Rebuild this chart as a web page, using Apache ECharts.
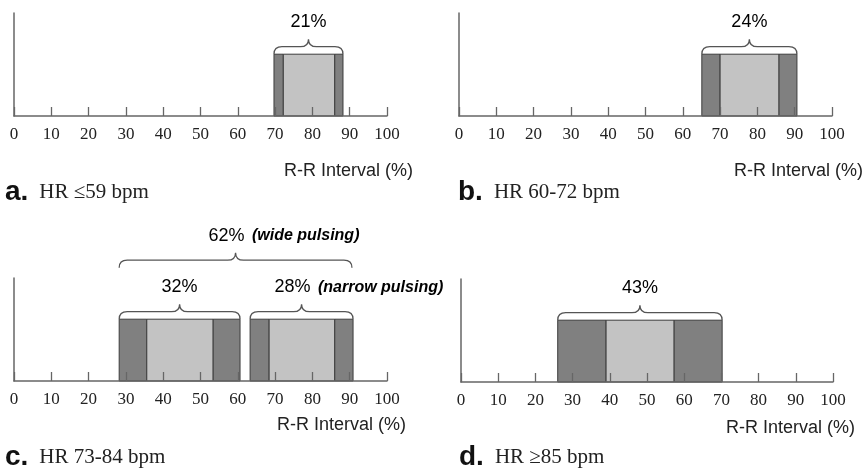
<!DOCTYPE html>
<html>
<head>
<meta charset="utf-8">
<script src="https://cdn.jsdelivr.net/npm/echarts@6/dist/echarts.min.js"></script>
<style>
  html, body { margin: 0; padding: 0; background: #fff; }
  #chart { width: 863px; height: 468px; }
</style>
</head>
<body>
<div id="chart"></div>
<script>
/* R-R interval windows per heart-rate band: dark edge / light core / dark edge. */

const X_MIN = 0;
const X_MAX = 100;
const X_STEP = 10;

const PANEL_KEYS = ["a.", "b.", "c.", "d."];
const CAPTIONS = ["HR \u226459 bpm", "HR 60-72 bpm", "HR 73-84 bpm", "HR \u226585 bpm"];
const AXIS_NAME = "R-R Interval (%)";

// each bar: [start, light start, light end, end] on the R-R axis
const BARS_A = [[69.7, 72.2, 86.0, 88.2]];
const BARS_B = [[65.1, 70.0, 85.8, 90.6]];
const BARS_C = [[28.2, 35.6, 53.4, 60.6], [63.3, 68.4, 86.0, 90.9]];
const BARS_D = [[26.0, 39.0, 57.3, 70.2]];
const BAR_LEVEL = 6;

// each brace: [from, to, level, percent, note]
const BRACES_A = [[69.7, 88.2, 6, "21%", ""]];
const BRACES_B = [[65.1, 90.6, 6, "24%", ""]];
const BRACES_C = [
  [28.2, 60.6, 6, "32%", ""],
  [63.3, 90.9, 6, "28%", "narrow pulsing"],
  [28.2, 90.6, 11, "62%", "wide pulsing"],
];
const BRACES_D = [[26.0, 70.2, 6, "43%", ""]];

const BARS = [BARS_A, BARS_B, BARS_C, BARS_D];
const BRACES = [BRACES_A, BRACES_B, BRACES_C, BRACES_D];

const GRIDS = [
  { left: 14, top: 13, width: 373, height: 103 },
  { left: 459, top: 13, width: 373, height: 103 },
  { left: 14, top: 278, width: 373, height: 103 },
  { left: 461, top: 279, width: 372, height: 103 },
];
const CAPTION_POS = [[5, 178], [458, 178], [5, 443], [459, 443]];
const NAME_POS = [[284, 162], [734, 162], [277, 416], [726, 419]];

const AXIS_COLOR = "#666";
const DARK = "#808080";
const LIGHT = "#c3c3c3";
const EDGE = "#3c3c3c";
const SANS = "Liberation Sans, Arial, sans-serif";
const SERIF = "Liberation Serif, Times New Roman, serif";

function segmentsOf(bars) {
  const out = [];
  for (const b of bars) {
    out.push([b[0], b[1], 1], [b[1], b[2], 0], [b[2], b[3], 1]);
  }
  return out;
}

function barSeries(i) {
  const segs = segmentsOf(BARS[i]);
  return {
    type: "custom",
    xAxisIndex: i,
    yAxisIndex: i,
    z: 2,
    silent: true,
    data: segs,
    renderItem: (params, api) => {
      const p0 = api.coord([api.value(0), 0]);
      const p1 = api.coord([api.value(1), BAR_LEVEL]);
      const dark = segs[params.dataIndex][2] === 1;
      return {
        type: "rect",
        shape: { x: p0[0], y: p1[1], width: p1[0] - p0[0], height: p0[1] - p1[1] },
        style: { fill: dark ? DARK : LIGHT, stroke: EDGE, lineWidth: 1 },
      };
    },
  };
}

function braceSeries(i) {
  const list = BRACES[i];
  return {
    type: "custom",
    xAxisIndex: i,
    yAxisIndex: i,
    z: 3,
    silent: true,
    clip: false,
    data: list.map((b) => [b[0], b[1], b[2]]),
    renderItem: (params, api) => {
      const b = list[params.dataIndex];
      const a = api.coord([api.value(0), api.value(2)]);
      const c = api.coord([api.value(1), api.value(2)]);
      const x1 = a[0], x2 = c[0], yb = a[1];
      const h = 15, r = 8;
      const ym = yb - h / 2;
      const xm = (x1 + x2) / 2;
      const d =
        `M${x1},${yb} Q${x1},${ym} ${x1 + r},${ym} L${xm - r},${ym} ` +
        `Q${xm},${ym} ${xm},${yb - h} Q${xm},${ym} ${xm + r},${ym} ` +
        `L${x2 - r},${ym} Q${x2},${ym} ${x2},${yb}`;
      const hasNote = !!b[4];
      return {
        type: "group",
        children: [
          {
            type: "path",
            shape: { pathData: d },
            style: { fill: "none", stroke: "#555", lineWidth: 1.3 },
          },
          {
            type: "text",
            style: {
              x: hasNote ? xm - 27 : xm,
              y: yb - h - 8,
              text: hasNote ? `{p|${b[3]}} {n|(${b[4]})}` : `{p|${b[3]}}`,
              align: hasNote ? "left" : "center",
              verticalAlign: "bottom",
              rich: {
                p: { fontFamily: SANS, fontSize: 18, color: "#222" },
                n: { fontFamily: SANS, fontSize: 16, fontWeight: "bold", fontStyle: "italic", color: "#222", padding: [0, 0, 0, 4] },
              },
            },
          },
        ],
      };
    },
  };
}

const chart = echarts.init(document.getElementById("chart"), null, { renderer: "canvas" });

const titles = [];
PANEL_KEYS.forEach((k, i) => {
  titles.push({
    text: `{l|${k}}{h|${CAPTIONS[i]}}`,
    left: CAPTION_POS[i][0],
    top: CAPTION_POS[i][1],
    padding: 0,
    textStyle: {
      fontWeight: "normal",
      rich: {
        l: { fontFamily: SANS, fontWeight: "bold", fontSize: 28, color: "#111" },
        h: { fontFamily: SERIF, fontWeight: "normal", fontSize: 21, color: "#222", padding: [0, 0, 0, 11] },
      },
    },
  });
  titles.push({
    text: AXIS_NAME,
    left: NAME_POS[i][0],
    top: NAME_POS[i][1],
    padding: 0,
    textStyle: { fontFamily: SANS, fontSize: 18, fontWeight: "normal", color: "#222" },
  });
});

chart.setOption({
  animation: false,
  backgroundColor: "#fff",
  title: titles,
  grid: GRIDS.map((g) => Object.assign({ containLabel: false, outerBoundsMode: "none" }, g)),
  xAxis: GRIDS.map((g, i) => ({
    type: "value",
    gridIndex: i,
    min: X_MIN,
    max: X_MAX,
    interval: X_STEP,
    z: 10,
    axisLine: { show: true, lineStyle: { color: AXIS_COLOR, width: 1.5 } },
    axisTick: { show: true, inside: true, length: 9, lineStyle: { color: AXIS_COLOR, width: 1.3 } },
    axisLabel: { fontFamily: SERIF, fontSize: 17, color: "#222", margin: 10 },
    splitLine: { show: false },
  })),
  yAxis: GRIDS.map((g, i) => ({
    type: "value",
    gridIndex: i,
    min: 0,
    max: 10,
    axisLine: { show: true, lineStyle: { color: AXIS_COLOR, width: 1.5 } },
    axisTick: { show: false },
    axisLabel: { show: false },
    splitLine: { show: false },
  })),
  series: [0, 1, 2, 3].flatMap((i) => [barSeries(i), braceSeries(i)]),
});
</script>
</body>
</html>
